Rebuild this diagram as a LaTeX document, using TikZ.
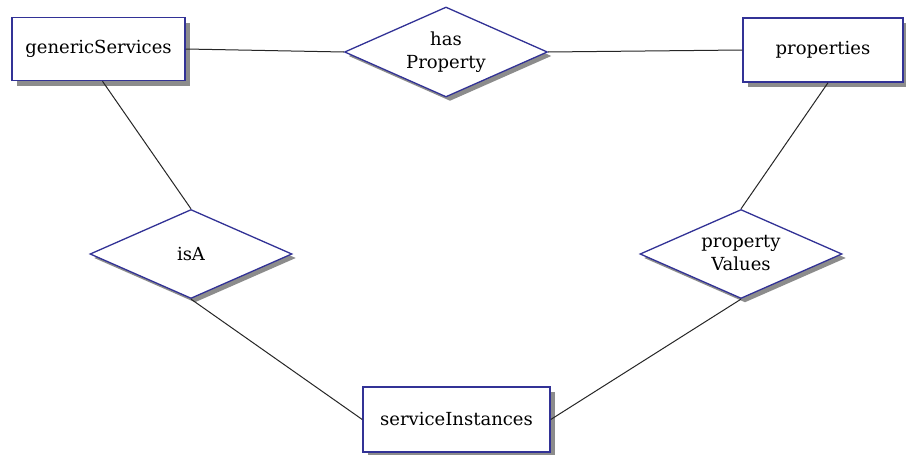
\documentclass[tikz,border=0pt]{standalone}
\usepackage{fontspec}
\setmainfont{DejaVu Serif}
\usetikzlibrary{shapes.geometric,shadows}
\definecolor{edgeblue}{RGB}{50,50,150}
\definecolor{shadowgray}{RGB}{140,140,140}
\begin{document}
\begin{tikzpicture}[x=1pt,y=-1pt,
  txt/.style={font=\fontsize{18}{23}\selectfont, text=black, align=center, inner sep=0pt},
  entity/.style={txt, rectangle, draw=edgeblue, line width=1.5pt, fill=white,
    drop shadow={shadow xshift=5pt, shadow yshift=-5pt, fill=shadowgray, opacity=1}},
  relation/.style={diamond, draw=edgeblue, line width=1.3pt, fill=white, inner sep=0pt,
    minimum width=202pt, minimum height=89pt,
    drop shadow={shadow xshift=4pt, shadow yshift=-4pt, fill=shadowgray, opacity=1}},
  link/.style={draw=black!85, line width=1pt}]
\useasboundingbox[fill=white] (0,0) rectangle (906,455);

\node[entity, minimum width=173pt, minimum height=63pt] (gs) at (98.5,49) {genericServices};
\node[entity, minimum width=160pt, minimum height=64pt] (pr) at (823,50) {properties};
\node[entity, minimum width=187pt, minimum height=65pt] (si) at (456.5,419.5) {serviceInstances};

\node[relation, minimum width=203pt, minimum height=90pt] (hp) at (446,52) {};
\node[relation] (isa) at (191,254) {};
\node[relation] (pv) at (741,254) {};
\node[txt] (hpt) at (hp.center) {has\\Property};
\node[txt] (isat) at (isa.center) {isA};
\node[txt] (pvt) at ([yshift=1pt]pv.center) {property\\Values};

\draw[link] (gs.east) -- (hp.west);
\draw[link] (hp.east) -- (pr.west);
\draw[link] ([xshift=4pt]gs.south) -- (isa.north);
\draw[link] ([xshift=5pt]pr.south) -- (pv.north);
\draw[link] (isa.south) -- (si.west);
\draw[link] (pv.south) -- (si.east);
\end{tikzpicture}
\end{document}
